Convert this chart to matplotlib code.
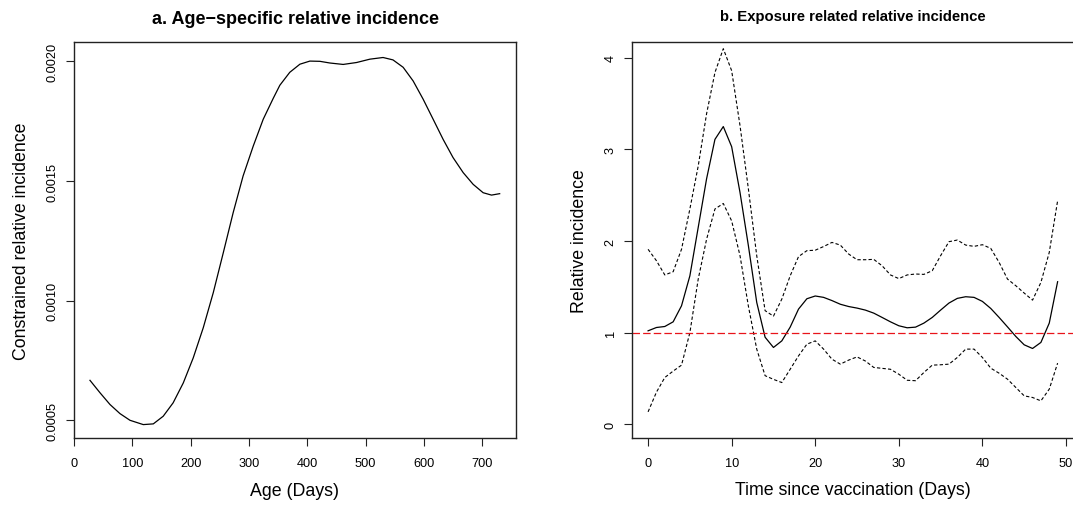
import numpy as np
import matplotlib
matplotlib.use("Agg")
import matplotlib.pyplot as plt
from matplotlib.ticker import FormatStrFormatter

plt.rcParams["font.family"] = ["Liberation Sans", "DejaVu Sans"]

# panel a: age-specific relative incidence
age_days = [27.4, 44.6, 61.7, 78.8, 96, 118.8, 136, 153, 170, 187.4, 204.5,
            221.7, 238.8, 256, 273, 290, 307.4, 324.5, 341.6, 353, 370,
            387.4, 404.5, 421.7, 438.8, 461.6, 484.5, 507.4, 530, 547,
            564.5, 581.6, 598.7, 615.9, 633, 650, 667.4, 684.5, 701.6, 716, 730]
age_ri = [0.000667, 0.000615, 0.000566, 0.000528, 0.000500, 0.000482, 0.000485,
          0.000517, 0.000573, 0.000656, 0.000761, 0.000887, 0.001033, 0.001200,
          0.001368, 0.001521, 0.001646, 0.001758, 0.001845, 0.001900, 0.001954,
          0.001988, 0.002001, 0.002000, 0.001993, 0.001987, 0.001995, 0.002009,
          0.002016, 0.002006, 0.001975, 0.001918, 0.001842, 0.001758, 0.001674,
          0.001598, 0.001535, 0.001486, 0.001451, 0.001441, 0.001447]

# panel b: exposure related relative incidence, days 0..49
days = list(range(50))
ri = [1.02, 1.056, 1.067, 1.118, 1.293, 1.62, 2.15, 2.68, 3.11, 3.25,
      3.03, 2.53, 1.95, 1.33, 0.95, 0.838, 0.91, 1.06, 1.257, 1.37,
      1.40, 1.385, 1.35, 1.31, 1.285, 1.268, 1.246, 1.213, 1.166, 1.118,
      1.075, 1.053, 1.06, 1.104, 1.166, 1.246, 1.323, 1.374, 1.392, 1.385,
      1.341, 1.264, 1.166, 1.063, 0.958, 0.867, 0.827, 0.893, 1.104, 1.556]
ri_upper = [1.91, 1.785, 1.63, 1.665, 1.91, 2.35, 2.82, 3.39, 3.84, 4.10,
            3.86, 3.26, 2.57, 1.84, 1.24, 1.18, 1.366, 1.62, 1.83, 1.895,
            1.90, 1.94, 1.985, 1.956, 1.858, 1.796, 1.796, 1.80, 1.73, 1.63,
            1.59, 1.63, 1.640, 1.636, 1.676, 1.84, 1.993, 2.011, 1.956, 1.942,
            1.96, 1.92, 1.767, 1.585, 1.512, 1.432, 1.355, 1.548, 1.876, 2.44]
ri_lower = [0.135, 0.35, 0.51, 0.58, 0.645, 1.0, 1.585, 2.02, 2.35, 2.41,
            2.22, 1.84, 1.29, 0.82, 0.53, 0.49, 0.455, 0.60, 0.746, 0.874,
            0.91, 0.82, 0.71, 0.656, 0.70, 0.735, 0.69, 0.62, 0.61, 0.60,
            0.546, 0.48, 0.475, 0.565, 0.645, 0.649, 0.656, 0.729, 0.82, 0.82,
            0.729, 0.612, 0.557, 0.492, 0.401, 0.31, 0.292, 0.255, 0.383, 0.667]

W, H = 1073, 506
fig = plt.figure(figsize=(W / 100, H / 100), dpi=100)

def box(l, r, t, b):
    return [l / W, 1 - b / H, (r - l) / W, (b - t) / H]

ax1 = fig.add_axes(box(74, 516, 43.3, 439))
ax2 = fig.add_axes(box(631.7, 1074, 43.3, 438.5))

for ax in (ax1, ax2):
    for s in ax.spines.values():
        s.set_linewidth(1.0)
        s.set_color("#222222")
    ax.tick_params(axis="both", length=5.8, width=0.8, labelsize=9.2, color="#222222")
    ax.tick_params(axis="x", pad=8)
    ax.tick_params(axis="y", pad=5)

# ---- panel a ----
ax1.plot(age_days, age_ri, color="black", lw=0.9)
ax1.set_xlim(0, 758)
ax1.set_ylim(0.000426, 0.0020795)
ax1.set_xticks(range(0, 701, 100))
ax1.set_yticks([0.0005, 0.0010, 0.0015, 0.0020])
ax1.yaxis.set_major_formatter(FormatStrFormatter("%.4f"))
for lab in ax1.get_yticklabels():
    lab.set_rotation(90)
    lab.set_va("center")
ax1.set_title("a. Age\u2212specific relative incidence", fontsize=13,
              fontweight="bold", pad=14)
ax1.set_xlabel("Age (Days)", fontsize=12.8, labelpad=9)
ax1.set_ylabel("Constrained relative incidence", fontsize=12.8, labelpad=12)

# ---- panel b ----
ax2.plot(days, ri, color="black", lw=0.9)
ax2.plot(days, ri_upper, color="black", lw=0.8, dashes=(3, 2))
ax2.plot(days, ri_lower, color="black", lw=0.8, dashes=(3, 2))
ax2.axhline(1, color="#e8141a", lw=0.9, dashes=(6, 2.5))
ax2.set_xlim(-1.96, 50.96)
ax2.set_ylim(-0.145, 4.17)
ax2.set_xticks(range(0, 51, 10))
ax2.set_yticks(range(0, 5))
for lab in ax2.get_yticklabels():
    lab.set_rotation(90)
    lab.set_va("center")
ax2.set_title("b. Exposure related relative incidence", fontsize=10.7,
              fontweight="bold", pad=16)
ax2.set_xlabel("Time since vaccination (Days)", fontsize=12.8, labelpad=9)
ax2.set_ylabel("Relative incidence", fontsize=12.8, labelpad=12)

fig.savefig("out.png", dpi=100)
